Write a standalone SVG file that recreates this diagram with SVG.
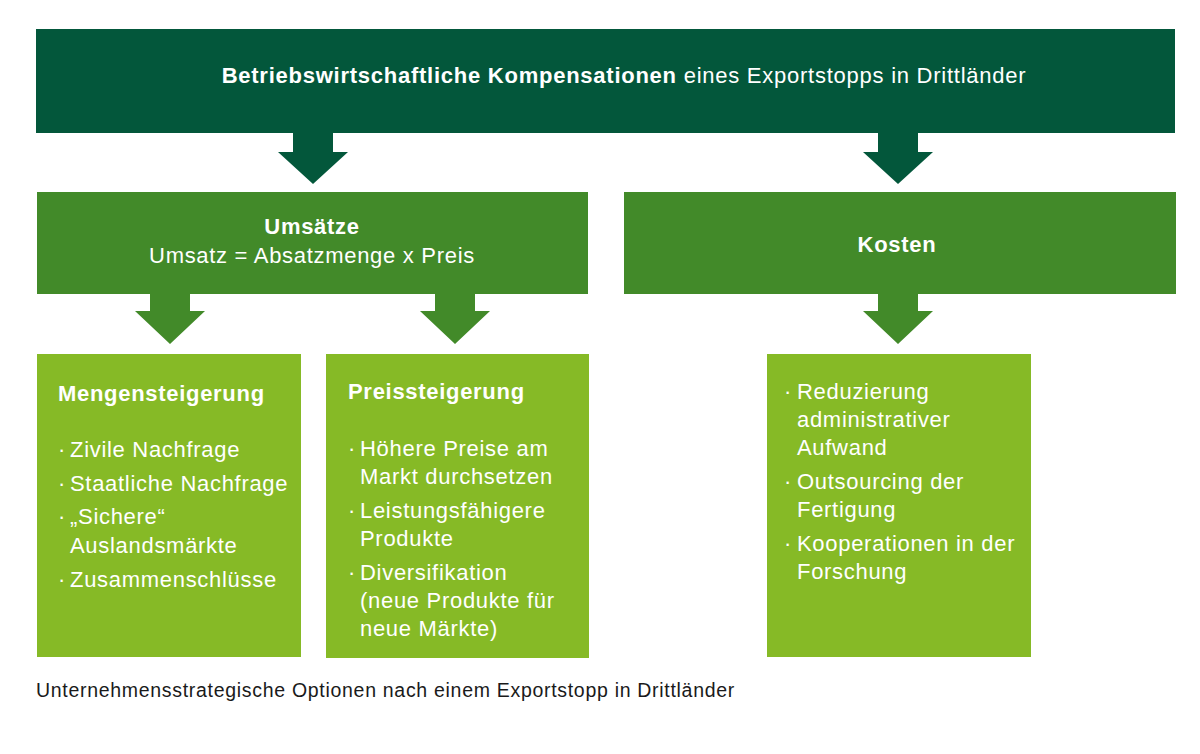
<svg xmlns="http://www.w3.org/2000/svg" width="1200" height="754" viewBox="0 0 1200 754">
<style>
text{font-family:"Liberation Sans",Arial,sans-serif;fill:#ffffff;font-size:22px;letter-spacing:0.7px}
.b{font-weight:bold}
.t{letter-spacing:0.75px}
.dark{fill:#03573b}
.mid{fill:#428a29}
.light{fill:#86ba26}
.cap{fill:#1a1a1a;font-size:19.5px;letter-spacing:0.7px}
</style>
<rect width="1200" height="754" fill="#ffffff"/>
<g id="top">
<rect class="dark" x="36" y="29" width="1139" height="104"/>
<text class="t" x="624" y="83" text-anchor="middle"><tspan class="b">Betriebswirtschaftliche Kompensationen</tspan> eines Exportstopps in Drittländer</text>
</g>
<g id="connectors">
<polygon class="dark" points="293,133 333,133 333,152 348,152 313,184 278,152 293,152"/>
<polygon class="dark" points="878,133 918,133 918,152 933,152 898,184 863,152 878,152"/>
<polygon class="mid" points="150,294 190,294 190,311 205,311 170,344 135,311 150,311"/>
<polygon class="mid" points="435,294 475,294 475,311 490,311 455,344 420,311 435,311"/>
<polygon class="mid" points="878,294 918,294 918,311 933,311 898,344 863,311 878,311"/>
</g>
<g id="umsaetze">
<rect class="mid" x="37" y="192" width="551" height="102"/>
<text class="b" x="312" y="234" text-anchor="middle">Umsätze</text>
<text x="312" y="263" text-anchor="middle">Umsatz = Absatzmenge x Preis</text>
</g>
<g id="kosten">
<rect class="mid" x="624" y="192" width="552" height="102"/>
<text class="b" x="897" y="252" text-anchor="middle">Kosten</text>
</g>
<g id="mengensteigerung">
<rect class="light" x="37" y="354" width="264" height="303"/>
<text class="b" x="58" y="401">Mengensteigerung</text>
<text x="58" y="457">·<tspan x="70">Zivile Nachfrage</tspan></text>
<text x="58" y="491">·<tspan x="70">Staatliche Nachfrage</tspan></text>
<text x="58" y="524">·<tspan x="70">„Sichere“</tspan></text>
<text x="70" y="553">Auslandsmärkte</text>
<text x="58" y="587">·<tspan x="70">Zusammenschlüsse</tspan></text>
</g>
<g id="preissteigerung">
<rect class="light" x="326" y="354" width="263" height="304"/>
<text class="b" x="348" y="399">Preissteigerung</text>
<text x="348" y="456">·<tspan x="360">Höhere Preise am</tspan></text>
<text x="360" y="484">Markt durchsetzen</text>
<text x="348" y="518">·<tspan x="360">Leistungsfähigere</tspan></text>
<text x="360" y="546">Produkte</text>
<text x="348" y="580">·<tspan x="360">Diversifikation</tspan></text>
<text x="360" y="608">(neue Produkte für</text>
<text x="360" y="636">neue Märkte)</text>
</g>
<g id="kostenmassnahmen">
<rect class="light" x="767" y="354" width="264" height="303"/>
<text x="784" y="399">·<tspan x="797">Reduzierung</tspan></text>
<text x="797" y="427">administrativer</text>
<text x="797" y="455">Aufwand</text>
<text x="784" y="489">·<tspan x="797">Outsourcing der</tspan></text>
<text x="797" y="517">Fertigung</text>
<text x="784" y="551">·<tspan x="797">Kooperationen in der</tspan></text>
<text x="797" y="579">Forschung</text>
</g>
<text class="cap" x="36" y="697">Unternehmensstrategische Optionen nach einem Exportstopp in Drittländer</text>
</svg>
